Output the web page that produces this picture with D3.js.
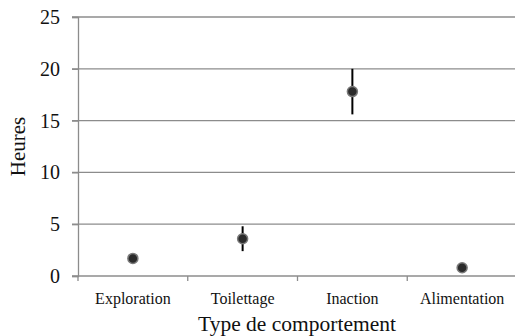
<!DOCTYPE html>
<html>
<head>
<meta charset="utf-8">
<script src="https://cdn.jsdelivr.net/npm/d3@7"></script>
<style>
  body { margin: 0; background: #fff; }
  svg { display: block; }
</style>
</head>
<body>
<svg id="chart" width="515" height="336"></svg>
<script>
const categories = ["Exploration", "Toilettage", "Inaction", "Alimentation"];
const means = [1.7, 3.6, 17.8, 0.8];
const errors = [0, 1.2, 2.2, 0];
const yTicks = [0, 5, 10, 15, 20, 25];

const svg = d3.select("#chart");
const mLeft = 78, mRight = 517, mTop = 17, mBottom = 276;
const font = "'Liberation Serif', 'Times New Roman', serif";

const x = d3.scaleBand().domain(categories).range([mLeft, mRight]);
const y = d3.scaleLinear().domain([0, 25]).range([mBottom, mTop]);

// gridlines
svg.append("g")
  .selectAll("line")
  .data(yTicks.filter(d => d > 0))
  .enter().append("line")
  .attr("x1", mLeft - 6).attr("x2", 515)
  .attr("y1", d => y(d)).attr("y2", d => y(d))
  .attr("stroke", "#8c8c8c").attr("stroke-width", 1.3);

// y axis
const yAxis = svg.append("g")
  .attr("transform", "translate(" + mLeft + ",0)")
  .call(d3.axisLeft(y).tickValues(yTicks).tickSize(6).tickPadding(12));
yAxis.select(".domain").attr("stroke", "#8c8c8c").attr("stroke-width", 1.3);
yAxis.selectAll(".tick line").attr("stroke", "#8c8c8c").attr("stroke-width", 1.3);
yAxis.selectAll("text")
  .attr("font-family", font).attr("font-size", 20).attr("fill", "#111");

// x axis
const xAxis = svg.append("g")
  .attr("transform", "translate(0," + mBottom + ")")
  .call(d3.axisBottom(x).tickSize(0));
xAxis.select(".domain").attr("stroke", "#8c8c8c").attr("stroke-width", 1.3)
  .attr("d", "M" + (mLeft - 6) + ",0H515");
xAxis.selectAll("text")
  .attr("y", 28).attr("dy", null)
  .attr("font-family", font).attr("font-size", 16).attr("fill", "#111");
xAxis.selectAll(".boundary")
  .data(categories)
  .enter().append("line")
  .attr("x1", d => x(d)).attr("x2", d => x(d))
  .attr("y1", 0).attr("y2", 5)
  .attr("stroke", "#8c8c8c").attr("stroke-width", 1.3);

// error bars
svg.append("g")
  .selectAll("line")
  .data(categories)
  .enter().append("line")
  .attr("x1", d => x(d) + x.bandwidth() / 2)
  .attr("x2", d => x(d) + x.bandwidth() / 2)
  .attr("y1", (d, i) => y(means[i] + errors[i]))
  .attr("y2", (d, i) => y(means[i] - errors[i]))
  .attr("stroke", "#000").attr("stroke-width", 2);

// points
svg.append("g")
  .selectAll("circle")
  .data(categories)
  .enter().append("circle")
  .attr("cx", d => x(d) + x.bandwidth() / 2)
  .attr("cy", (d, i) => y(means[i]))
  .attr("r", 5)
  .attr("fill", "#2b2b2b")
  .attr("stroke", "#7a7a7a").attr("stroke-width", 1.5);

// axis titles
svg.append("text")
  .attr("transform", "translate(25," + ((mTop + mBottom) / 2) + ") rotate(-90)")
  .attr("text-anchor", "middle")
  .attr("font-family", font).attr("font-size", 21).attr("fill", "#111")
  .text("Heures");

svg.append("text")
  .attr("x", 297).attr("y", 331)
  .attr("text-anchor", "middle")
  .attr("font-family", font).attr("font-size", 21.5).attr("fill", "#111")
  .text("Type de comportement");
</script>
</body>
</html>
